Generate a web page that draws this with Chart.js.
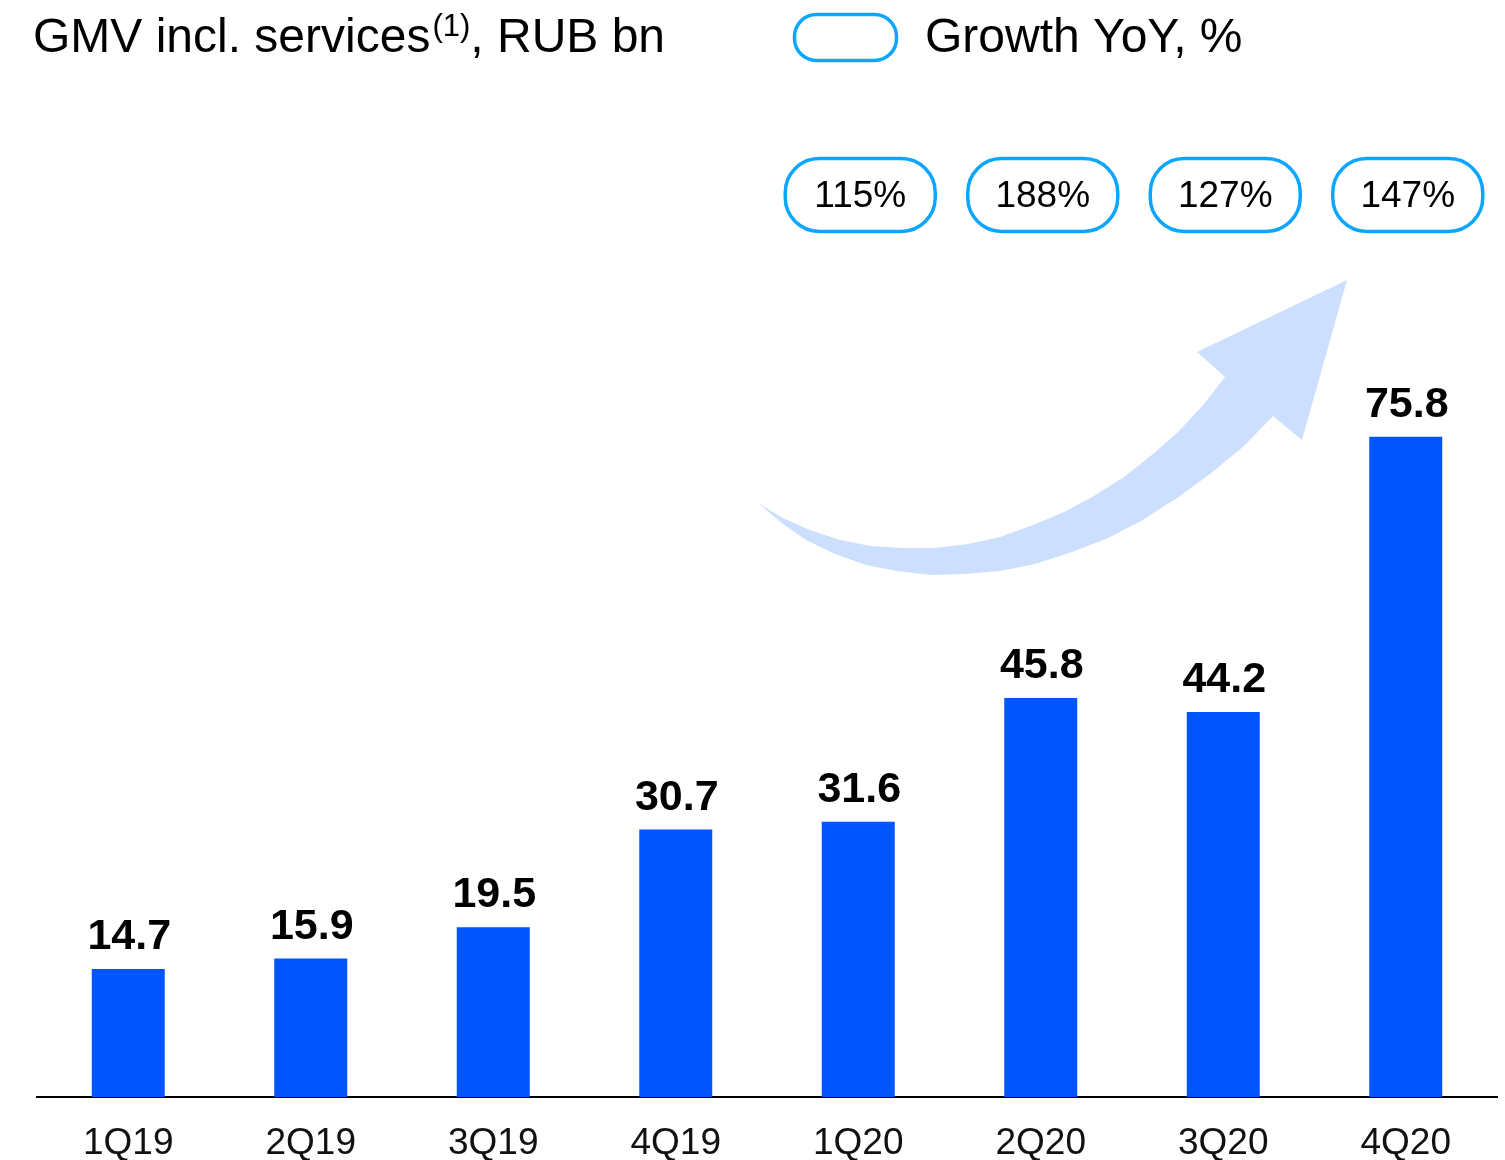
<!DOCTYPE html>
<html>
<head>
<meta charset="utf-8">
<script src="https://cdn.jsdelivr.net/npm/chart.js@4.4.1/dist/chart.umd.min.js"></script>
<style>
  html, body { margin: 0; padding: 0; background: #ffffff; }
  #wrap { width: 1505px; height: 1160px; position: relative; }
  canvas { display: block; }
</style>
</head>
<body>
<div id="wrap"><canvas id="gmv" width="1505" height="1160"></canvas></div>
<script>
// Quarterly GMV including services, RUB bn
const quarters = ['1Q19', '2Q19', '3Q19', '4Q19', '1Q20', '2Q20', '3Q20', '4Q20'];
const gmvValues = [14.7, 15.9, 19.5, 30.7, 31.6, 45.8, 44.2, 75.8];
// Year-over-year growth, %, shown for the 2020 quarters
const growthYoY = [null, null, null, null, 115, 188, 127, 147];

const titleMain = 'GMV incl. services';
const titleSup = '(1)';
const titleTail = ', RUB bn';
const legendText = 'Growth YoY, %';

const BAR_BLUE = '#0055ff';
const PILL_BLUE = '#0aa6ff';
const ARROW_BLUE = '#cddfff';
const FONT = '"Liberation Sans", Arial, Helvetica, sans-serif';

function roundRect(ctx, x, y, w, h, r) {
  ctx.beginPath();
  ctx.moveTo(x + r, y);
  ctx.lineTo(x + w - r, y);
  ctx.arcTo(x + w, y, x + w, y + r, r);
  ctx.lineTo(x + w, y + h - r);
  ctx.arcTo(x + w, y + h, x + w - r, y + h, r);
  ctx.lineTo(x + r, y + h);
  ctx.arcTo(x, y + h, x, y + h - r, r);
  ctx.lineTo(x, y + r);
  ctx.arcTo(x, y, x + r, y, r);
  ctx.closePath();
}

// Header: chart title with footnote marker, and the growth legend
const headerPlugin = {
  id: 'header',
  afterDraw(chart) {
    const ctx = chart.ctx;
    ctx.save();
    ctx.fillStyle = '#000000';
    ctx.textBaseline = 'alphabetic';
    ctx.textAlign = 'left';
    let x = 33;
    ctx.font = '48px ' + FONT;
    ctx.fillText(titleMain, x, 52);
    x += ctx.measureText(titleMain).width + 2;
    ctx.font = '31px ' + FONT;
    ctx.fillText(titleSup, x, 36);
    x += ctx.measureText(titleSup).width;
    ctx.font = '48px ' + FONT;
    ctx.fillText(titleTail, x, 52);

    // legend swatch
    ctx.lineWidth = 3.5;
    ctx.strokeStyle = PILL_BLUE;
    roundRect(ctx, 794.5, 14.5, 102, 46, 22);
    ctx.stroke();
    ctx.fillStyle = '#000000';
    ctx.font = '48px ' + FONT;
    ctx.fillText(legendText, 925, 52);
    ctx.restore();
  }
};

// Growth arrow sweeping up toward the latest quarter
const arrowShape = [
  [758, 503], [783, 518], [810, 530], [840, 540], [871, 546], [903, 548],
  [934, 548], [968, 544], [1000, 537], [1033, 525], [1064, 512], [1094, 496],
  [1124, 477], [1153, 454], [1179, 431], [1204, 404], [1225, 377],
  [1197, 352], [1347, 280], [1302, 440], [1273, 416],
  [1244, 446], [1210, 474], [1177, 498], [1141, 521], [1108, 538],
  [1072, 552], [1035, 564], [1000, 571], [964, 574], [931, 575],
  [897, 571], [866, 565], [835, 554], [806, 540], [783, 524]
];
const arrowPlugin = {
  id: 'growthArrow',
  beforeDatasetsDraw(chart) {
    const ctx = chart.ctx;
    ctx.save();
    ctx.fillStyle = ARROW_BLUE;
    ctx.beginPath();
    arrowShape.forEach(([px, py], i) => i ? ctx.lineTo(px, py) : ctx.moveTo(px, py));
    ctx.closePath();
    ctx.fill();
    ctx.restore();
  }
};

// Value labels above bars and growth pills above 2020 quarters
const labelsPlugin = {
  id: 'barLabels',
  afterDatasetsDraw(chart) {
    const ctx = chart.ctx;
    const meta = chart.getDatasetMeta(0);
    const xScale = chart.scales.x;
    ctx.save();
    ctx.textAlign = 'center';
    ctx.fillStyle = '#000000';
    ctx.textBaseline = 'alphabetic';
    ctx.font = 'bold 43px ' + FONT;
    meta.data.forEach((bar, i) => {
      ctx.fillText(gmvValues[i].toFixed(1), bar.x + 1, bar.y - 20);
    });

    growthYoY.forEach((g, i) => {
      if (g === null) return;
      const cx = xScale.getPixelForValue(i) + 2;
      const w = 150, h = 73, cy = 195;
      ctx.lineWidth = 3.5;
      ctx.strokeStyle = PILL_BLUE;
      roundRect(ctx, cx - w / 2, cy - h / 2, w, h, 34);
      ctx.stroke();
      ctx.fillStyle = '#000000';
      ctx.font = '37px ' + FONT;
      ctx.textBaseline = 'middle';
      ctx.fillText(g + '%', cx, cy + 2);
    });
    ctx.restore();
  }
};

new Chart(document.getElementById('gmv'), {
  type: 'bar',
  data: {
    labels: quarters,
    datasets: [{
      data: gmvValues,
      backgroundColor: BAR_BLUE,
      borderWidth: 0,
      barPercentage: 0.4,
      categoryPercentage: 1.0
    }]
  },
  options: {
    responsive: false,
    animation: false,
    devicePixelRatio: 1,
    layout: { padding: { left: 37, right: 8, top: 226, bottom: 0 } },
    plugins: {
      legend: { display: false },
      tooltip: { enabled: false },
      title: { display: false }
    },
    scales: {
      x: {
        grid: { display: false, drawTicks: false },
        border: { display: true, color: '#000000', width: 2 },
        ticks: {
          color: '#111111',
          font: { family: FONT, size: 37 },
          padding: 25,
          maxRotation: 0
        },
        afterFit(scale) { scale.height = 63; }
      },
      y: {
        display: false,
        min: 0,
        max: 100
      }
    }
  },
  plugins: [arrowPlugin, labelsPlugin, headerPlugin]
});
</script>
</body>
</html>
